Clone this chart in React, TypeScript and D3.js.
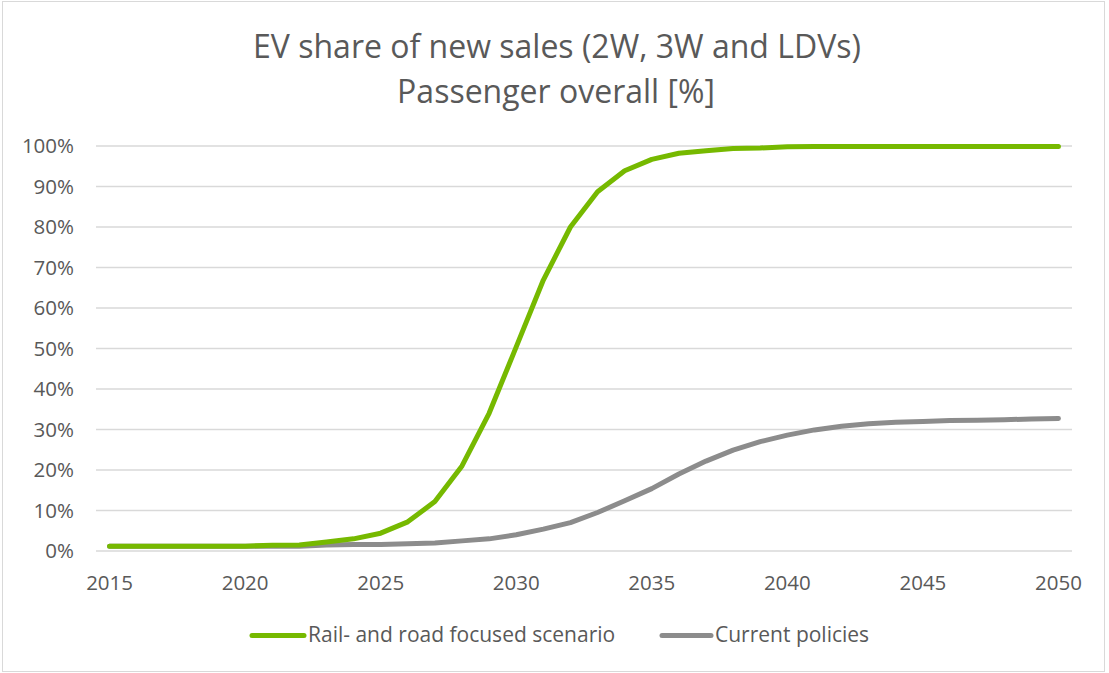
import * as d3 from 'd3';
import { useEffect } from 'react';

const years = [
  2015, 2016, 2017, 2018, 2019, 2020, 2021, 2022, 2023, 2024, 2025, 2026,
  2027, 2028, 2029, 2030, 2031, 2032, 2033, 2034, 2035, 2036, 2037, 2038,
  2039, 2040, 2041, 2042, 2043, 2044, 2045, 2046, 2047, 2048, 2049, 2050,
];

// Rail- and road focused scenario [%]
const railRoad = [
  1.2, 1.2, 1.2, 1.2, 1.2, 1.2, 1.4, 1.5, 2.2, 3.0, 4.4, 7.2,
  12.2, 21.0, 34.0, 50.4, 66.9, 80.0, 88.7, 93.9, 96.7, 98.2, 98.8, 99.4,
  99.5, 99.8, 99.9, 99.9, 99.9, 99.9, 99.9, 99.9, 99.9, 99.9, 99.9, 99.9,
];

// Current policies [%]
const currentPolicies = [
  1.2, 1.2, 1.2, 1.2, 1.2, 1.2, 1.2, 1.2, 1.5, 1.6, 1.6, 1.8,
  2.0, 2.5, 3.0, 4.0, 5.4, 7.0, 9.5, 12.4, 15.4, 19.0, 22.2, 24.9,
  27.0, 28.6, 29.9, 30.8, 31.4, 31.8, 32.0, 32.2, 32.3, 32.4, 32.6, 32.7,
];

const yTicks = [0, 10, 20, 30, 40, 50, 60, 70, 80, 90, 100];
const xTickYears = [2015, 2020, 2025, 2030, 2035, 2040, 2045, 2050];

const titleLines = ['EV share of new sales (2W, 3W and LDVs)', 'Passenger overall [%]'];

const seriesList = [
  { label: 'Rail- and road focused scenario', values: railRoad, color: '#76b900' },
  { label: 'Current policies', values: currentPolicies, color: '#8c8c8c' },
];

const W = 1109;
const H = 673;
const margin = { top: 146, right: 37, bottom: 122, left: 96 };
const textColor = '#595959';
const font = "'Open Sans', sans-serif";

function App() {
  useEffect(() => {
    document.body.style.margin = '0';
  }, []);

  const innerW = W - margin.left - margin.right;
  const innerH = H - margin.top - margin.bottom;

  const x = d3.scaleBand<number>().domain(years).range([0, innerW]);
  const y = d3.scaleLinear().domain([0, 100]).range([innerH, 0]);
  const cx = (yr: number) => (x(yr) ?? 0) + x.bandwidth() / 2;

  const line = d3
    .line<number>()
    .x((_, i) => cx(years[i]))
    .y((d) => y(d))
    .curve(d3.curveLinear);

  return (
    <svg width={W} height={H} style={{ display: 'block', background: '#fff' }}>
      <rect x={2.5} y={1.5} width={W - 7} height={H - 3} fill="#fff" stroke="#d9d9d9" strokeWidth={1} />

      {/* title */}
      <text x={557} y={58} textAnchor="middle" fontFamily={font} fontSize={32} fill={textColor}>
        {titleLines[0]}
      </text>
      <text x={556} y={103} textAnchor="middle" fontFamily={font} fontSize={32} fill={textColor}>
        {titleLines[1]}
      </text>

      <g transform={`translate(${margin.left},${margin.top})`}>
        {/* gridlines */}
        {yTicks.map((t) => (
          <line key={t} x1={0} x2={innerW} y1={y(t)} y2={y(t)} stroke="#d9d9d9" strokeWidth={1.5} />
        ))}

        {/* y labels */}
        {yTicks.map((t) => (
          <text
            key={t}
            x={-22}
            y={y(t)}
            dy="0.36em"
            textAnchor="end"
            fontFamily={font}
            fontSize={20.5}
            fill={textColor}
          >
            {`${t}%`}
          </text>
        ))}

        {/* x labels */}
        {xTickYears.map((yr) => (
          <text
            key={yr}
            x={cx(yr)}
            y={innerH + 39}
            textAnchor="middle"
            fontFamily={font}
            fontSize={20.5}
            fill={textColor}
          >
            {yr}
          </text>
        ))}

        {/* lines: gray first, green on top */}
        {[seriesList[1], seriesList[0]].map((s) => (
          <path
            key={s.label}
            d={line(s.values) ?? ''}
            fill="none"
            stroke={s.color}
            strokeWidth={5}
            strokeLinecap="round"
            strokeLinejoin="round"
          />
        ))}
      </g>

      {/* legend */}
      <g>
        <line x1={252} x2={304} y1={635.5} y2={635.5} stroke={seriesList[0].color} strokeWidth={5} strokeLinecap="round" />
        <text x={308} y={642} fontFamily={font} fontSize={21} fill={textColor}>
          {seriesList[0].label}
        </text>
        <line x1={662} x2={711} y1={635.5} y2={635.5} stroke={seriesList[1].color} strokeWidth={5} strokeLinecap="round" />
        <text x={715} y={642} fontFamily={font} fontSize={21} fill={textColor}>
          {seriesList[1].label}
        </text>
      </g>
    </svg>
  );
}

export default App;
